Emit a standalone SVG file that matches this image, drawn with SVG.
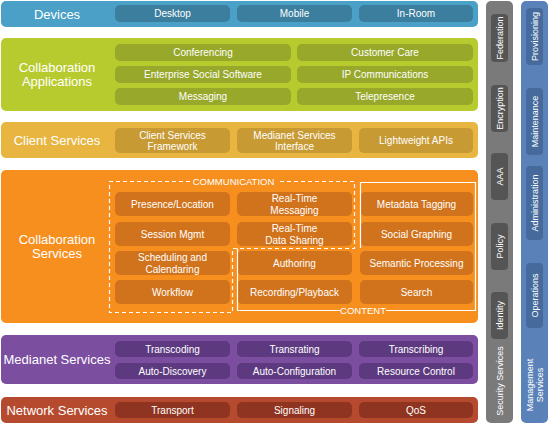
<svg xmlns="http://www.w3.org/2000/svg" width="549" height="425" viewBox="0 0 549 425">
<style>
text{font-family:"Liberation Sans",Arial,sans-serif;fill:#fff;text-anchor:middle;dominant-baseline:central}
.bl{font-size:13px}
.pl{font-size:10px}
.lb{font-size:9.5px}
.vl{font-size:9px}
.dev{fill:#4aa0c6}.devp{fill:#3b7e9e}
.app{fill:#b7cb2f}.appp{fill:#97a82a}
.cli{fill:#e8b540}.clip{fill:#c89a34}
.col{fill:#f78f1f}.colp{fill:#d0731c}
.med{fill:#7b4e9f}.medp{fill:#5d3a80}
.net{fill:#b64a2f}.netp{fill:#8e3421}
.sec{fill:#7a7a7a}.secp{fill:#555}
.mgt{fill:#5a82b8}.mgtp{fill:#456a9b}
</style>
<rect width="549" height="425" fill="#fff"/>
<g id="devices">
<rect class="dev" x="1" y="1" width="477" height="26" rx="5"/>
<text class="bl" x="57" y="14">Devices</text>
<rect class="devp" x="115" y="5" width="115" height="17" rx="5"/><text class="pl" x="172.5" y="13.5">Desktop</text>
<rect class="devp" x="237" y="5" width="115" height="17" rx="5"/><text class="pl" x="294.5" y="13.5">Mobile</text>
<rect class="devp" x="359" y="5" width="114" height="17" rx="5"/><text class="pl" x="416" y="13.5">In-Room</text>
</g>
<g id="collab-apps">
<rect class="app" x="1" y="38" width="477" height="73" rx="5"/>
<text class="bl" x="57" y="67">Collaboration</text><text class="bl" x="57" y="81">Applications</text>
<rect class="appp" x="115" y="44" width="176" height="17" rx="5"/><text class="pl" x="203" y="52.5">Conferencing</text>
<rect class="appp" x="297" y="44" width="176" height="17" rx="5"/><text class="pl" x="385" y="52.5">Customer Care</text>
<rect class="appp" x="115" y="66" width="176" height="17" rx="5"/><text class="pl" x="203" y="74.5">Enterprise Social Software</text>
<rect class="appp" x="297" y="66" width="176" height="17" rx="5"/><text class="pl" x="385" y="74.5">IP Communications</text>
<rect class="appp" x="115" y="88" width="176" height="17" rx="5"/><text class="pl" x="203" y="96.5">Messaging</text>
<rect class="appp" x="297" y="88" width="176" height="17" rx="5"/><text class="pl" x="385" y="96.5">Telepresence</text>
</g>
<g id="client-services">
<rect class="cli" x="1" y="122" width="477" height="36" rx="5"/>
<text class="bl" x="57" y="140.5">Client Services</text>
<rect class="clip" x="115" y="128" width="115" height="25" rx="5"/><text class="pl" x="172.5" y="135">Client Services</text><text class="pl" x="172.5" y="146.5">Framework</text>
<rect class="clip" x="237" y="128" width="115" height="25" rx="5"/><text class="pl" x="294.5" y="135">Medianet Services</text><text class="pl" x="294.5" y="146.5">Interface</text>
<rect class="clip" x="359" y="128" width="114" height="25" rx="5"/><text class="pl" x="416" y="140.5">Lightweight APIs</text>
</g>
<g id="collab-services">
<rect class="col" x="1" y="170" width="477" height="153" rx="5"/>
<text class="bl" x="57" y="239">Collaboration</text><text class="bl" x="57" y="253">Services</text>
<rect class="colp" x="115" y="192" width="115" height="24" rx="5"/><text class="pl" x="172.5" y="204">Presence/Location</text>
<rect class="colp" x="115" y="222" width="115" height="24" rx="5"/><text class="pl" x="172.5" y="234">Session Mgmt</text>
<rect class="colp" x="115" y="251" width="115" height="24" rx="5"/><text class="pl" x="172.5" y="257.5">Scheduling and</text><text class="pl" x="172.5" y="269">Calendaring</text>
<rect class="colp" x="115" y="280" width="115" height="24" rx="5"/><text class="pl" x="172.5" y="292">Workflow</text>
<rect class="colp" x="237" y="192" width="115" height="24" rx="5"/><text class="pl" x="294.5" y="198.5">Real-Time</text><text class="pl" x="294.5" y="210">Messaging</text>
<rect class="colp" x="237" y="222" width="115" height="24" rx="5"/><text class="pl" x="294.5" y="228.5">Real-Time</text><text class="pl" x="294.5" y="240">Data Sharing</text>
<rect class="colp" x="237" y="251" width="115" height="24" rx="5"/><text class="pl" x="294.5" y="263">Authoring</text>
<rect class="colp" x="237" y="280" width="115" height="24" rx="5"/><text class="pl" x="294.5" y="292">Recording/Playback</text>
<rect class="colp" x="360" y="192" width="113" height="24" rx="5"/><text class="pl" x="416.5" y="204">Metadata Tagging</text>
<rect class="colp" x="360" y="222" width="113" height="24" rx="5"/><text class="pl" x="416.5" y="234">Social Graphing</text>
<rect class="colp" x="360" y="251" width="113" height="24" rx="5"/><text class="pl" x="416.5" y="263">Semantic Processing</text>
<rect class="colp" x="360" y="280" width="113" height="24" rx="5"/><text class="pl" x="416.5" y="292">Search</text>
<path d="M190 181.5H109.5V312.5H232.5V248.5H354.5V181.5H277" fill="none" stroke="#fff" stroke-width="1.2" stroke-dasharray="4,3"/>
<text class="lb" x="233.5" y="181">COMMUNICATION</text>
<path d="M340 310.5H237.5V248.5M360.5 248V182.5H475.5V310.5H386" fill="none" stroke="#fff" stroke-width="1.2"/>
<text class="lb" x="363" y="310.5">CONTENT</text>
</g>
<g id="medianet-services">
<rect class="med" x="1" y="335" width="477" height="49" rx="5"/>
<text class="bl" x="57" y="359.5">Medianet Services</text>
<rect class="medp" x="115" y="341" width="115" height="16" rx="5"/><text class="pl" x="172.5" y="349">Transcoding</text>
<rect class="medp" x="237" y="341" width="115" height="16" rx="5"/><text class="pl" x="294.5" y="349">Transrating</text>
<rect class="medp" x="359" y="341" width="114" height="16" rx="5"/><text class="pl" x="416" y="349">Transcribing</text>
<rect class="medp" x="115" y="363" width="115" height="16" rx="5"/><text class="pl" x="172.5" y="371">Auto-Discovery</text>
<rect class="medp" x="237" y="363" width="115" height="16" rx="5"/><text class="pl" x="294.5" y="371">Auto-Configuration</text>
<rect class="medp" x="359" y="363" width="114" height="16" rx="5"/><text class="pl" x="416" y="371">Resource Control</text>
</g>
<g id="network-services">
<rect class="net" x="1" y="397" width="477" height="26" rx="5"/>
<text class="bl" x="57" y="410">Network Services</text>
<rect class="netp" x="115" y="402" width="115" height="16" rx="5"/><text class="pl" x="172.5" y="410">Transport</text>
<rect class="netp" x="237" y="402" width="115" height="16" rx="5"/><text class="pl" x="294.5" y="410">Signaling</text>
<rect class="netp" x="359" y="402" width="114" height="16" rx="5"/><text class="pl" x="416" y="410">QoS</text>
</g>
<g id="security-services">
<rect class="sec" x="486" y="1" width="27" height="422" rx="5"/>
<rect class="secp" x="491" y="14" width="17" height="48" rx="4"/><text class="vl" transform="translate(499.5 38) rotate(-90)">Federation</text>
<rect class="secp" x="491" y="85" width="17" height="47" rx="4"/><text class="vl" transform="translate(499.5 108.5) rotate(-90)">Encryption</text>
<rect class="secp" x="491" y="153" width="17" height="47" rx="4"/><text class="vl" transform="translate(499.5 176.5) rotate(-90)">AAA</text>
<rect class="secp" x="491" y="223" width="17" height="47" rx="4"/><text class="vl" transform="translate(499.5 246.5) rotate(-90)">Policy</text>
<rect class="secp" x="491" y="292" width="17" height="47" rx="4"/><text class="vl" transform="translate(499.5 315.5) rotate(-90)">Identity</text>
<text class="vl" transform="translate(499.5 381) rotate(-90)">Security Services</text>
</g>
<g id="management-services">
<rect class="mgt" x="521" y="1" width="27" height="422" rx="5"/>
<rect class="mgtp" x="526" y="8" width="17" height="57" rx="4"/><text class="vl" transform="translate(534.5 36.5) rotate(-90)">Provisioning</text>
<rect class="mgtp" x="526" y="88" width="17" height="67" rx="4"/><text class="vl" transform="translate(534.5 121.5) rotate(-90)">Maintenance</text>
<rect class="mgtp" x="526" y="166" width="17" height="74" rx="4"/><text class="vl" transform="translate(534.5 203) rotate(-90)">Administration</text>
<rect class="mgtp" x="526" y="263" width="17" height="65" rx="4"/><text class="vl" transform="translate(534.5 295.5) rotate(-90)">Operations</text>
<text class="vl" transform="translate(529.5 385) rotate(-90)">Management</text>
<text class="vl" transform="translate(539.5 385) rotate(-90)">Services</text>
</g>
</svg>
